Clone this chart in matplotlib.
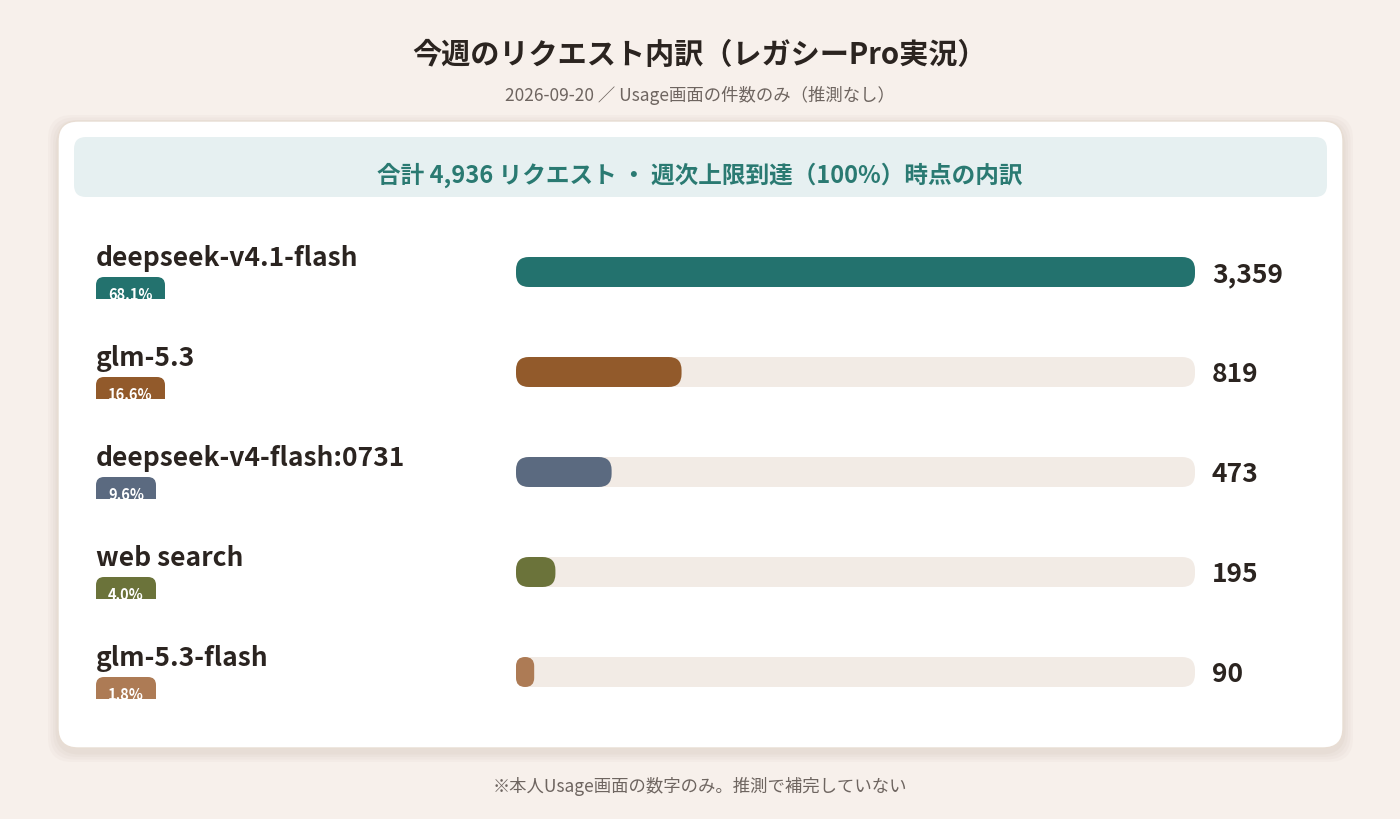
import matplotlib
matplotlib.use("Agg")
import matplotlib.pyplot as plt
from matplotlib.patches import FancyBboxPatch

plt.rcParams['font.family'] = ['Noto Sans CJK JP', 'DejaVu Sans']

models = ["deepseek-v4.1-flash", "glm-5.3", "deepseek-v4-flash:0731", "web search", "glm-5.3-flash"]
counts = [3359, 819, 473, 195, 90]
shares = ["68.1%", "16.6%", "9.6%", "4.0%", "1.8%"]
colors = ["#23726e", "#925a2b", "#5b6a80", "#6b733a", "#ad7b55"]

TITLE = "今週のリクエスト内訳（レガシーPro実況）"
SUBTITLE = "2026-09-20 ／ Usage画面の件数のみ（推測なし）"
HEADER = "合計 4,936 リクエスト ・ 週次上限到達（100%）時点の内訳"
FOOT = "※本人Usage画面の数字のみ。推測で補完していない"

fig = plt.figure(figsize=(14, 8.2), dpi=100)
fig.patch.set_facecolor("#f7f0eb")
ax = fig.add_axes([0, 0, 1, 1])
ax.set_xlim(0, 1400)
ax.set_ylim(820, 0)
ax.axis("off")

# card shadow + card
for i, a in enumerate([0.03, 0.03, 0.03, 0.04]):
    g = 10 - i * 2.5
    ax.add_patch(FancyBboxPatch((58 - g, 126 - g), 1285 + 2 * g, 627 + 2 * g,
                                boxstyle="round,pad=0,rounding_size=24", fc="#8a6a50",
                                ec="none", alpha=a))
ax.add_patch(FancyBboxPatch((58, 122), 1285, 627, boxstyle="round,pad=0,rounding_size=20",
                            fc="white", ec="#e8ddd3", lw=1))
ax.add_patch(FancyBboxPatch((74, 138), 1253, 60, boxstyle="round,pad=0,rounding_size=12",
                            fc="#e6f0f1", ec="none"))

ax.text(700, 55, TITLE, ha="center", va="center", fontsize=21, fontweight="bold", color="#2b2420")
ax.text(700, 95, SUBTITLE, ha="center", va="center", fontsize=12.5, color="#6e6560")
ax.text(700, 175, HEADER, ha="center", va="center", fontsize=17, fontweight="bold", color="#2a7a72")
ax.text(700, 786, FOOT, ha="center", va="center", fontsize=12.5, color="#6e6560")

x0, width, h = 516, 679, 30
vmax = max(counts)
for i, (m, c, s, col) in enumerate(zip(models, counts, shares, colors)):
    yc = 273 + i * 100
    ax.text(96, yc - 14, m, ha="left", va="center", fontsize=19, fontweight="bold", color="#2b2420")
    # badge, clipped at its bottom
    bw = 69 if len(s) > 4 else 60
    badge = FancyBboxPatch((96, yc + 5), bw, 32, boxstyle="round,pad=0,rounding_size=8",
                           fc=col, ec="none")
    ax.add_patch(badge)
    clip = plt.Rectangle((90, yc + 4), bw + 20, 23, transform=ax.transData)
    badge.set_clip_path(clip)
    t = ax.text(96 + bw / 2, yc + 22, s, ha="center", va="center", fontsize=10.5,
                fontweight="bold", color="white")
    t.set_clip_path(clip)
    # track and bar
    ax.add_patch(FancyBboxPatch((x0, yc - h / 2), width, h, boxstyle="round,pad=0,rounding_size=13",
                                fc="#f2ebe5", ec="none"))
    bl = c / vmax * width
    ax.add_patch(FancyBboxPatch((x0, yc - h / 2), bl, h,
                                boxstyle=f"round,pad=0,rounding_size={min(13, bl / 2)}",
                                fc=col, ec="none"))
    ax.text(1212, yc + 2, f"{c:,}", ha="left", va="center", fontsize=19, fontweight="bold",
            color="#2b2420")

fig.savefig("out.png", dpi=100, facecolor=fig.get_facecolor())
